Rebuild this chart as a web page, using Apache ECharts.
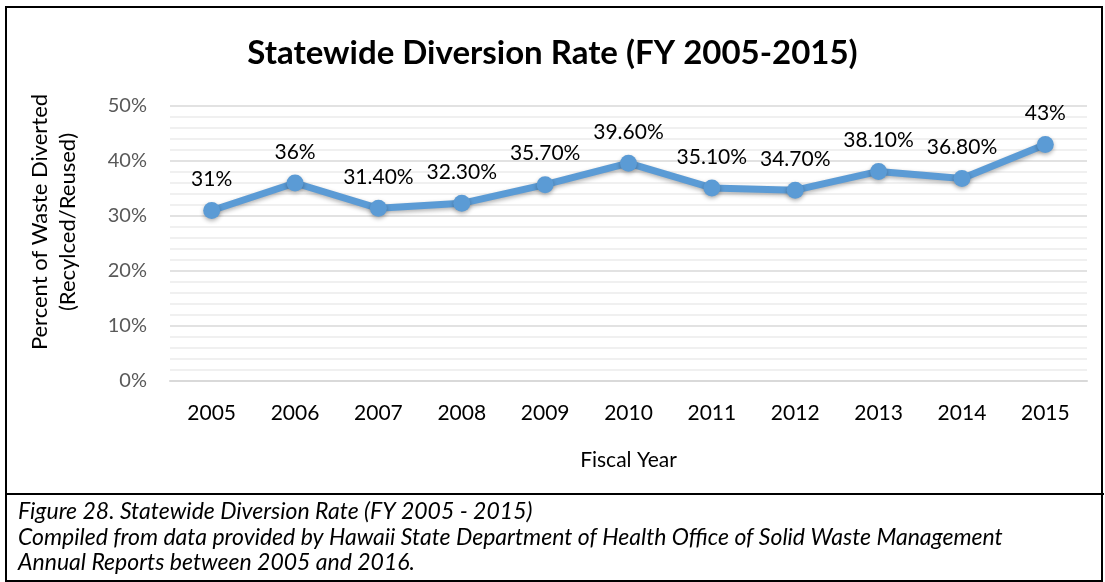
<!DOCTYPE html>
<html>
<head>
<meta charset="utf-8">
<script src="https://cdn.jsdelivr.net/npm/echarts@6/dist/echarts.min.js"></script>
<style>
  html, body { margin: 0; padding: 0; background: #fff; }
  #main { width: 1105px; height: 582px; }
</style>
</head>
<body>
<div id="main"></div>
<script>
// fiscal years and diversion rates (percent)
var years = ['2005', '2006', '2007', '2008', '2009', '2010', '2011', '2012', '2013', '2014', '2015'];
var rates = [31, 36, 31.4, 32.3, 35.7, 39.6, 35.1, 34.7, 38.1, 36.8, 43];
var rateLabels = ['31%', '36%', '31.40%', '32.30%', '35.70%', '39.60%', '35.10%', '34.70%', '38.10%', '36.80%', '43%'];
var yNameLines = ['Percent of Waste Diverted', '(Recylced/Reused)'];
var captionLines = [
  'Figure 28. Statewide Diversion Rate (FY 2005 - 2015)',
  'Compiled from data provided by Hawaii State Department of Health Office of Solid Waste Management',
  'Annual Reports between 2005 and 2016.'
];

var font = 'Lato, "Open Sans", sans-serif';
var chart = echarts.init(document.getElementById('main'));

var extraText = [];
for (let i = 0; i < captionLines.length; i++) {
  extraText.push({
    type: 'text',
    x: 18,
    y: 512 + i * 25.5,
    style: {
      text: captionLines[i],
      font: 'italic 23px ' + font,
      fill: '#000',
      verticalAlign: 'middle'
    }
  });
}
// y axis title, two rotated lines
for (let i = 0; i < yNameLines.length; i++) {
  extraText.push({
    type: 'text',
    x: 40 + i * 28,
    y: 222,
    rotation: Math.PI / 2,
    style: {
      text: yNameLines[i],
      font: '22px ' + font,
      fill: '#000',
      align: 'center',
      verticalAlign: 'middle'
    }
  });
}

var option = {
  backgroundColor: '#ffffff',
  animation: false,
  title: {
    text: 'Statewide Diversion Rate (FY 2005-2015)',
    left: 'center',
    top: 32,
    textStyle: {
      fontFamily: font,
      fontWeight: 'bold',
      fontSize: 33,
      color: '#000'
    }
  },
  grid: {
    left: 170,
    right: 18,
    top: 106,
    bottom: 201
  },
  xAxis: {
    type: 'category',
    data: years,
    name: 'Fiscal Year',
    nameLocation: 'middle',
    nameGap: 69,
    nameTextStyle: { fontFamily: font, fontSize: 21, color: '#000' },
    axisLine: { lineStyle: { color: '#d9d9d9', width: 2 } },
    axisTick: { show: false },
    axisLabel: { fontFamily: font, fontSize: 21, color: '#000', margin: 22 }
  },
  yAxis: {
    type: 'value',
    min: 0,
    max: 50,
    interval: 10,
    axisLine: { show: false },
    axisTick: { show: false },
    axisLabel: {
      fontFamily: font,
      fontSize: 20,
      color: '#595959',
      margin: 23,
      formatter: '{value}%'
    },
    splitLine: { lineStyle: { color: '#d9d9d9', width: 1.5 } },
    minorTick: { show: false, splitNumber: 5 },
    minorSplitLine: { show: true, lineStyle: { color: '#ebebeb', width: 1.5 } }
  },
  series: [{
    type: 'line',
    data: rates,
    symbol: 'circle',
    symbolSize: 17,
    lineStyle: {
      color: '#5b9bd5',
      width: 7,
      shadowColor: 'rgba(0,0,0,0.3)',
      shadowBlur: 4,
      shadowOffsetY: 2
    },
    itemStyle: {
      color: '#5b9bd5',
      shadowColor: 'rgba(0,0,0,0.3)',
      shadowBlur: 4,
      shadowOffsetY: 2
    },
    label: {
      show: true,
      position: 'top',
      distance: 12,
      fontFamily: font,
      fontSize: 21,
      color: '#000',
      formatter: function (p) { return rateLabels[p.dataIndex]; }
    }
  }],
  graphic: [
    {
      type: 'rect',
      shape: { x: 6, y: 7, width: 1096, height: 574 },
      style: { fill: 'none', stroke: '#000', lineWidth: 2 },
      silent: true
    },
    {
      type: 'line',
      shape: { x1: 6, y1: 494, x2: 1104, y2: 494 },
      style: { stroke: '#000', lineWidth: 2 },
      silent: true
    }
  ].concat(extraText)
};

chart.setOption(option);
</script>
</body>
</html>
